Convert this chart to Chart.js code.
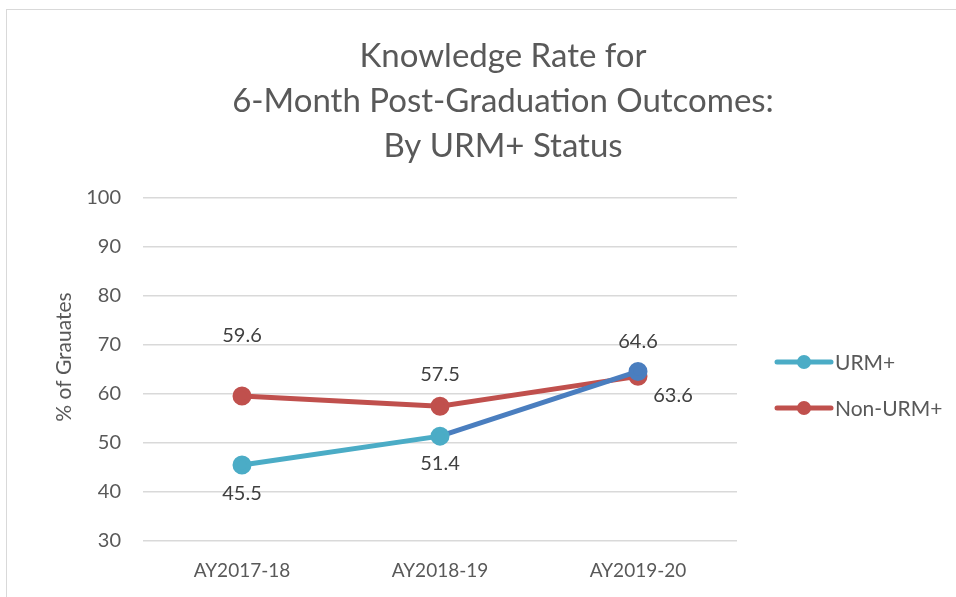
<!DOCTYPE html>
<html lang="en">
<head>
    <meta charset="UTF-8">
    <title>Knowledge Rate by URM+ Status</title>
    <script src="https://cdn.jsdelivr.net/npm/chart.js"></script>
    <style>
        html, body { margin: 0; padding: 0; background: #fff; }
        #wrap { position: relative; width: 956px; height: 597px; }
        #frame { position: absolute; left: 6px; top: 9px; right: -2px; bottom: -2px; border: 1.5px solid #d9d9d9; }
        canvas { position: absolute; left: 0; top: 0; }
    </style>
</head>
<body>
<div id="wrap">
    <div id="frame"></div>
    <canvas id="myChart" width="956" height="597"></canvas>
</div>

<script>
    // chart data
    const years = ['AY2017-18', 'AY2018-19', 'AY2019-20'];
    const urmValues = [45.5, 51.4, 64.6];
    const nonUrmValues = [59.6, 57.5, 63.6];
    const titleLines = ['Knowledge Rate for', '6-Month Post-Graduation Outcomes:', 'By URM+ Status'];
    const yTitle = '% of Grauates';

    const FONT = 'Lato, "Open Sans", sans-serif';
    const TEAL = '#4BACC6';
    const BLUE = '#4A7EBF';
    const RED = '#C0504D';

    // value label offsets (dx, dy) per point, like Excel's manual placement
    const labelOffsets = [
        [[0, 28], [0, 27], [0, -30]],
        [[0, -60], [0, -32], [35, 19]]
    ];

    const textPlugin = {
        id: 'texts',
        afterDraw(chart) {
            const c = chart.ctx;
            c.save();
            c.fillStyle = '#595959';
            c.font = '33px ' + FONT;
            c.textAlign = 'center';
            c.textBaseline = 'middle';
            titleLines.forEach((t, i) => c.fillText(t, 503, 56 + i * 45));
            // y axis title
            c.font = '21px ' + FONT;
            c.translate(64, 357);
            c.rotate(-Math.PI / 2);
            c.fillText(yTitle, 0, 0);
            c.restore();
        }
    };

    const valueLabels = {
        id: 'valueLabels',
        afterDatasetsDraw(chart) {
            const c = chart.ctx;
            c.save();
            c.fillStyle = '#404040';
            c.font = '20px ' + FONT;
            c.textAlign = 'center';
            c.textBaseline = 'middle';
            chart.data.datasets.forEach((ds, di) => {
                chart.getDatasetMeta(di).data.forEach((pt, i) => {
                    const off = labelOffsets[di][i];
                    c.fillText(ds.data[i].toFixed(1), pt.x + off[0], pt.y + off[1]);
                });
            });
            c.restore();
        }
    };

    // legend on the right, line + dot like Excel
    const sideLegend = {
        id: 'sideLegend',
        afterDraw(chart) {
            const c = chart.ctx;
            c.save();
            c.font = '21px ' + FONT;
            c.textBaseline = 'middle';
            chart.data.datasets.forEach((ds, i) => {
                const y = 362 + i * 46;
                c.strokeStyle = ds.legendColor;
                c.lineWidth = 5;
                c.lineCap = 'round';
                c.beginPath();
                c.moveTo(777, y);
                c.lineTo(831, y);
                c.stroke();
                c.fillStyle = ds.legendColor;
                c.beginPath();
                c.arc(804, y, 7, 0, Math.PI * 2);
                c.fill();
                c.fillStyle = '#595959';
                c.fillText(ds.label, 835, y + 1);
            });
            c.restore();
        }
    };

    const ctx = document.getElementById('myChart').getContext('2d');
    new Chart(ctx, {
        type: 'line',
        data: {
            labels: years,
            datasets: [
                {
                    label: 'URM+',
                    data: urmValues,
                    legendColor: TEAL,
                    borderColor: TEAL,
                    segment: {
                        borderColor: s => s.p1DataIndex === 2 ? BLUE : TEAL
                    },
                    pointBackgroundColor: [TEAL, TEAL, BLUE],
                    pointBorderColor: [TEAL, TEAL, BLUE],
                    borderWidth: 5,
                    pointRadius: 7,
                    pointHoverRadius: 7
                },
                {
                    label: 'Non-URM+',
                    data: nonUrmValues,
                    legendColor: RED,
                    borderColor: RED,
                    pointBackgroundColor: RED,
                    pointBorderColor: RED,
                    borderWidth: 5,
                    pointRadius: 7,
                    pointHoverRadius: 7
                }
            ]
        },
        options: {
            responsive: false,
            animation: false,
            layout: { padding: { top: 198, right: 219, left: 0, bottom: 0 } },
            plugins: {
                legend: { display: false },
                title: { display: false },
                tooltip: { enabled: false }
            },
            scales: {
                x: {
                    offset: true,
                    grid: { display: false, drawTicks: false },
                    border: { display: false },
                    ticks: { color: '#595959', font: { family: FONT, size: 19 }, padding: 18 },
                    afterFit: s => { s.height = 56; }
                },
                y: {
                    min: 30,
                    max: 100,
                    ticks: { stepSize: 10, color: '#595959', font: { family: FONT, size: 20 }, padding: 22 },
                    grid: { color: '#d9d9d9', lineWidth: 1.5, drawTicks: false },
                    border: { display: false },
                    afterFit: s => { s.width = 143; }
                }
            }
        },
        plugins: [textPlugin, valueLabels, sideLegend]
    });
</script>
</body>
</html>
